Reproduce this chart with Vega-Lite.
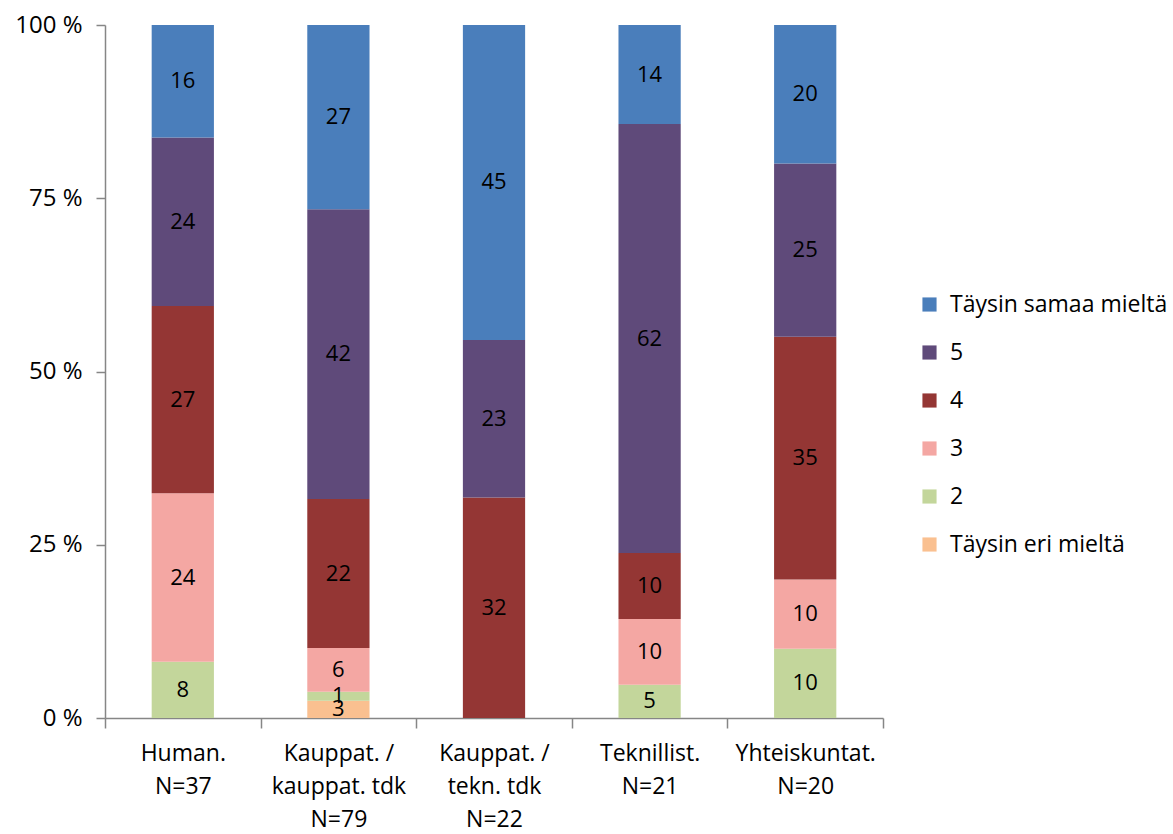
{
  "$schema": "https://vega.github.io/schema/vega-lite/v6.json",
  "autosize": {"type": "none"},
  "padding": {"left": 105, "top": 25, "right": 290, "bottom": 116},
  "width": 778,
  "height": 693,
  "background": "white",
  "config": {
    "view": {"stroke": null},
    "font": "Open Sans"
  },
  "data": {
    "values": [
      {"ryhma": "Human.|N=37", "vastaus": "2", "taso": 2, "osuus": 8.1},
      {"ryhma": "Human.|N=37", "vastaus": "3", "taso": 3, "osuus": 24.3},
      {"ryhma": "Human.|N=37", "vastaus": "4", "taso": 4, "osuus": 27.0},
      {"ryhma": "Human.|N=37", "vastaus": "5", "taso": 5, "osuus": 24.3},
      {"ryhma": "Human.|N=37", "vastaus": "Täysin samaa mieltä", "taso": 6, "osuus": 16.2},
      {"ryhma": "Kauppat. /|kauppat. tdk|N=79", "vastaus": "Täysin eri mieltä", "taso": 1, "osuus": 2.5},
      {"ryhma": "Kauppat. /|kauppat. tdk|N=79", "vastaus": "2", "taso": 2, "osuus": 1.3},
      {"ryhma": "Kauppat. /|kauppat. tdk|N=79", "vastaus": "3", "taso": 3, "osuus": 6.3},
      {"ryhma": "Kauppat. /|kauppat. tdk|N=79", "vastaus": "4", "taso": 4, "osuus": 21.5},
      {"ryhma": "Kauppat. /|kauppat. tdk|N=79", "vastaus": "5", "taso": 5, "osuus": 41.8},
      {"ryhma": "Kauppat. /|kauppat. tdk|N=79", "vastaus": "Täysin samaa mieltä", "taso": 6, "osuus": 26.6},
      {"ryhma": "Kauppat. /|tekn. tdk|N=22", "vastaus": "4", "taso": 4, "osuus": 31.8},
      {"ryhma": "Kauppat. /|tekn. tdk|N=22", "vastaus": "5", "taso": 5, "osuus": 22.7},
      {"ryhma": "Kauppat. /|tekn. tdk|N=22", "vastaus": "Täysin samaa mieltä", "taso": 6, "osuus": 45.4},
      {"ryhma": "Teknillist.|N=21", "vastaus": "2", "taso": 2, "osuus": 4.8},
      {"ryhma": "Teknillist.|N=21", "vastaus": "3", "taso": 3, "osuus": 9.5},
      {"ryhma": "Teknillist.|N=21", "vastaus": "4", "taso": 4, "osuus": 9.5},
      {"ryhma": "Teknillist.|N=21", "vastaus": "5", "taso": 5, "osuus": 61.9},
      {"ryhma": "Teknillist.|N=21", "vastaus": "Täysin samaa mieltä", "taso": 6, "osuus": 14.3},
      {"ryhma": "Yhteiskuntat.|N=20", "vastaus": "2", "taso": 2, "osuus": 10},
      {"ryhma": "Yhteiskuntat.|N=20", "vastaus": "3", "taso": 3, "osuus": 10},
      {"ryhma": "Yhteiskuntat.|N=20", "vastaus": "4", "taso": 4, "osuus": 35},
      {"ryhma": "Yhteiskuntat.|N=20", "vastaus": "5", "taso": 5, "osuus": 25},
      {"ryhma": "Yhteiskuntat.|N=20", "vastaus": "Täysin samaa mieltä", "taso": 6, "osuus": 20}
    ]
  },
  "encoding": {
    "x": {
      "field": "ryhma",
      "type": "nominal",
      "sort": null,
      "scale": {"paddingInner": 0, "paddingOuter": 0},
      "axis": {
        "title": null,
        "labelAngle": 0,
        "labelExpr": "split(datum.label, '|')",
        "labelFontSize": 23,
        "labelColor": "#000000",
        "labelLineHeight": 33,
        "labelPadding": 14,
        "labelBaseline": "top",
        "tickBand": "extent",
        "tickSize": 10,
        "tickColor": "#868686",
        "domainColor": "#868686",
        "tickWidth": 1.5,
        "domainWidth": 1.5
      }
    },
    "order": {"field": "taso", "type": "quantitative", "sort": "ascending"}
  },
  "layer": [
    {
      "mark": {"type": "bar", "width": {"band": 0.4}},
      "encoding": {
        "y": {
          "field": "osuus",
          "type": "quantitative",
          "stack": "normalize",
          "axis": {
            "title": null,
            "values": [0, 0.25, 0.5, 0.75, 1],
            "labelExpr": "format(datum.value * 100, 'd') + ' %'",
            "labelFontSize": 24,
            "labelColor": "#000000",
            "labelPadding": 14,
            "tickSize": 9,
            "tickColor": "#868686",
            "domainColor": "#868686",
            "tickWidth": 1.5,
            "domainWidth": 1.5,
            "grid": false
          }
        },
        "color": {
          "field": "vastaus",
          "type": "nominal",
          "scale": {
            "domain": ["Täysin samaa mieltä", "5", "4", "3", "2", "Täysin eri mieltä"],
            "range": ["#4A7EBB", "#5F4A7A", "#943634", "#F4A7A3", "#C3D69B", "#FAC090"]
          },
          "legend": {
            "title": null,
            "orient": "none",
            "legendX": 813,
            "legendY": 268,
            "symbolType": "square",
            "symbolSize": 200,
            "symbolStrokeWidth": 0,
            "labelFontSize": 23,
            "labelColor": "#000000",
            "labelOffset": 9,
            "rowPadding": 24,
            "labelLimit": 300
          }
        }
      }
    },
    {
      "mark": {"type": "text", "fontSize": 22, "color": "#000000", "baseline": "middle"},
      "encoding": {
        "y": {
          "field": "osuus",
          "type": "quantitative",
          "stack": "normalize",
          "bandPosition": 0.5
        },
        "text": {"field": "osuus", "type": "quantitative", "format": ".0f"}
      }
    }
  ]
}
